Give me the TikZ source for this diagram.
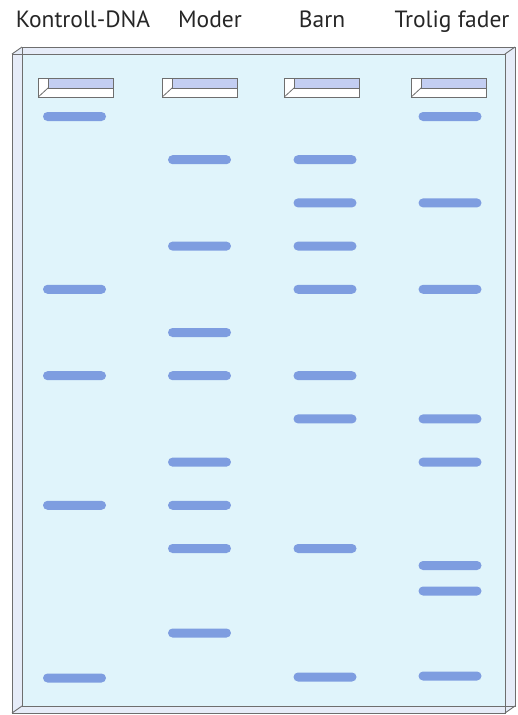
\documentclass[tikz,border=0pt]{standalone}
\usepackage{fontspec}
\setmainfont{PT Sans}
\definecolor{gelc}{HTML}{E0F4FB}
\definecolor{sidec}{HTML}{E6ECF8}
\definecolor{bandc}{HTML}{7E9DE0}
\definecolor{wellc}{HTML}{C3CEF2}
\definecolor{edgec}{HTML}{6E6E6E}
\tikzset{
  band/.style={fill=bandc, draw=none, minimum width=63pt, minimum height=9pt, rounded corners=4.5pt, inner sep=0pt},
  lbl/.style={anchor=base, inner sep=0pt, font=\fontsize{23.5}{26}\selectfont, text=black!85},
  gedge/.style={draw=edgec, line width=0.9pt},
  wedge/.style={draw=edgec, line width=0.8pt},
}
\begin{document}
\begin{tikzpicture}[x=1pt,y=-1pt]
\useasboundingbox (0,0) rectangle (518,715);
% gel slab
\fill[sidec] (12,54) -- (22,47) -- (515,47) -- (515,706) -- (505,713) -- (12,713) -- cycle;
\fill[gelc] (22,54) rectangle (505,706);
\draw[gedge] (12,54) rectangle (505,713);
\draw[gedge] (22,47) rectangle (515,706);
\draw[gedge] (12,54) -- (22,47);
\draw[gedge] (505,54) -- (515,47);
\draw[gedge] (12,713) -- (22,706);
\draw[gedge] (505,713) -- (515,706);
% labels
\node[lbl] (l1) at (83,27) {Kontroll-DNA};
\node[lbl] (l2) at (210,27) {Moder};
\node[lbl] (l3) at (322,27) {Barn};
\node[lbl] (l4) at (452,27) {Trolig fader};
% wells
\foreach \x [count=\i] in {38,162,284,411} {
  \node[fill=white, wedge, minimum width=75pt, minimum height=19pt, inner sep=0pt, anchor=north west] (w\i) at (\x,78) {};
  \fill[wellc] ([xshift=10pt]w\i.north west) rectangle ([yshift=-10pt]w\i.north east);
  \draw[wedge] ([xshift=10pt]w\i.north west) -- ([xshift=10pt,yshift=-10pt]w\i.north west) -- ([yshift=-10pt]w\i.north east);
  \draw[wedge] ([xshift=10pt,yshift=-10pt]w\i.north west) -- ([xshift=1pt,yshift=1.5pt]w\i.south west);
  \draw[wedge] (w\i.north west) rectangle (w\i.south east);
}
% bands
\foreach \y [count=\i] in {116.5,289.3,375.7,505.3,678} \node[band] (k\i) at (74.5,\y) {};
\foreach \y [count=\i] in {159.7,246.1,332.5,375.7,462.1,505.3,548.5,633} \node[band] (m\i) at (199.5,\y) {};
\foreach \y [count=\i] in {159.7,202.9,246.1,289.3,375.7,418.9,548.5,677} \node[band] (b\i) at (325,\y) {};
\foreach \y [count=\i] in {116.5,202.9,289.3,418.9,462.1,565.5,591,676} \node[band] (t\i) at (450,\y) {};
\end{tikzpicture}
\end{document}
